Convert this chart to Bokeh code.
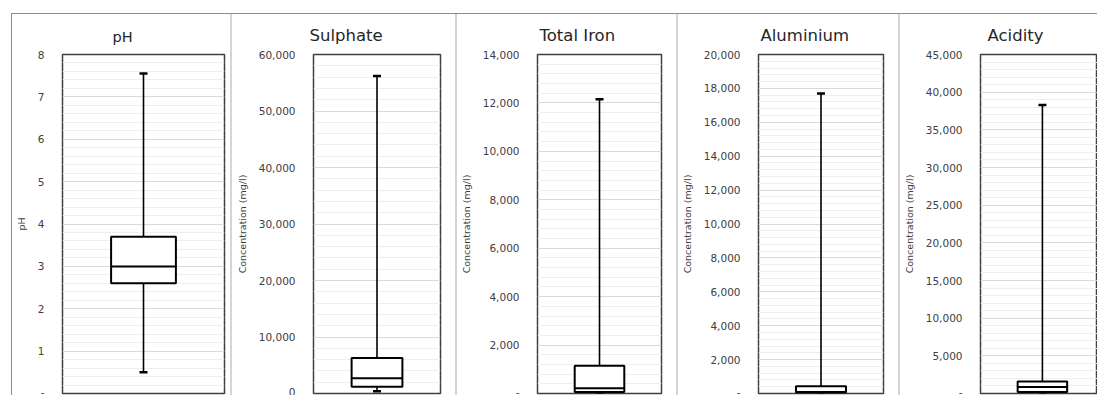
from bokeh.plotting import figure
from bokeh.models import Range1d, FixedTicker, NumeralTickFormatter, Div, ColumnDataSource
from bokeh.layouts import row, column
from bokeh.embed import file_html
from bokeh.resources import INLINE

# ---- data ----
titles = ["pH", "Sulphate", "Total Iron", "Aluminium", "Acidity"]
y_labels = ["pH", "Concentration (mg/l)", "Concentration (mg/l)",
            "Concentration (mg/l)", "Concentration (mg/l)"]
whisker_low = [0.5, 400, 10, 10, 20]
quartile1 = [2.6, 1200, 60, 60, 200]
median = [3.0, 2700, 220, 90, 850]
quartile3 = [3.7, 6300, 1150, 430, 1600]
whisker_high = [7.55, 56200, 12150, 17700, 38300]

ph_ticks = [0, 1, 2, 3, 4, 5, 6, 7, 8]
sulphate_ticks = [0, 10000, 20000, 30000, 40000, 50000, 60000]
iron_ticks = [0, 2000, 4000, 6000, 8000, 10000, 12000, 14000]
aluminium_ticks = [0, 2000, 4000, 6000, 8000, 10000, 12000, 14000, 16000, 18000, 20000]
acidity_ticks = [0, 5000, 10000, 15000, 20000, 25000, 30000, 35000, 40000, 45000]
major_ticks = [ph_ticks, sulphate_ticks, iron_ticks, aluminium_ticks, acidity_ticks]
zero_labels = ["-", "0", "-", "-", "-"]

# ---- layout / style ----
FONT = "DejaVu Sans"
fig_w = [218, 223, 219, 220, 197]
border_l = [46, 81, 73, 74, 72]
border_r = [6, 15, 15, 15, 0]
x_end = [0.5, 0.5, 0.5, 0.5, 0.445]
title_size = ["14.5px", "16.5px", "16.5px", "16.5px", "16.5px"]
title_left = [50, -4, 2, 2, 7]
FIG_H = 381


def minor_of(ticks, n=5):
    out = []
    for a, b in zip(ticks[:-1], ticks[1:]):
        for k in range(1, n):
            out.append(a + (b - a) * k / n)
    return out


figs = []
for i in range(5):
    ticks = major_ticks[i]
    p = figure(width=fig_w[i], height=FIG_H, output_backend="svg", toolbar_location=None,
               x_range=Range1d(-0.5, x_end[i]), y_range=Range1d(ticks[0], ticks[-1]),
               min_border_left=border_l[i], min_border_right=border_r[i],
               min_border_top=38, min_border_bottom=2, title=titles[i])
    p.background_fill_color = "white"
    p.border_fill_color = "white"
    p.outline_line_color = "#404040"
    p.outline_line_width = 1.5

    p.title.align = "left"
    p.title.offset = title_left[i]
    p.title.standoff = 19
    p.title.text_line_height = 0.65
    p.title.text_font = FONT
    p.title.text_font_size = title_size[i]
    p.title.text_font_style = "normal"
    p.title.text_color = "#262626"

    p.xaxis.visible = False
    p.xgrid.visible = False

    ticker = FixedTicker(ticks=ticks, minor_ticks=minor_of(ticks))
    p.yaxis.ticker = ticker
    p.ygrid.ticker = ticker
    p.ygrid.grid_line_color = "#d9d9d9"
    p.ygrid.minor_grid_line_color = "#eeeeee"
    p.yaxis.formatter = NumeralTickFormatter(format="0,0")
    p.yaxis.major_label_overrides = {0: zero_labels[i]}
    p.yaxis.axis_line_color = None
    p.yaxis.major_tick_line_color = None
    p.yaxis.minor_tick_line_color = None
    p.yaxis.major_tick_out = 0
    p.yaxis.major_label_standoff = 14
    p.yaxis.major_label_text_font = FONT
    p.yaxis.major_label_text_font_size = "10.5px"
    p.yaxis.major_label_text_color = "#404040"
    p.yaxis.axis_label = y_labels[i]
    p.yaxis.axis_label_text_font = FONT
    p.yaxis.axis_label_text_font_size = "9.5px"
    p.yaxis.axis_label_text_font_style = "normal"
    p.yaxis.axis_label_text_color = "#404040"
    p.yaxis.axis_label_standoff = 8

    src = ColumnDataSource(dict(x=[0], low=[whisker_low[i]], q1=[quartile1[i]],
                                med=[median[i]], q3=[quartile3[i]], high=[whisker_high[i]]))
    p.segment(x0="x", y0="low", x1="x", y1="high", source=src,
              line_color="black", line_width=1.6)
    p.vbar(x="x", width=0.4, bottom="q1", top="q3", source=src,
           fill_color="white", line_color="black", line_width=2)
    p.rect(x="x", y="med", width=0.4, height=2, height_units="screen", source=src,
           fill_color="black", line_color=None)
    p.scatter(x="x", y="low", marker="dash", size=8, line_width=2.5,
              line_color="black", source=src)
    p.scatter(x="x", y="high", marker="dash", size=8, line_width=2.5,
              line_color="black", source=src)
    figs.append(p)


def bar(w, h, color):
    return Div(width=w, height=h, margin=0, styles={"background-color": color})


items = [bar(11, FIG_H, "white"), bar(1, FIG_H, "#8c8c8c")]
for i, p in enumerate(figs):
    if i > 0:
        items.append(bar(2, FIG_H, "#d4d4d4"))
    items.append(p)

layout = column(
    bar(1097, 13, "white"),
    row(bar(11, 1, "white"), bar(1086, 1, "#8c8c8c"), spacing=0),
    row(*items, spacing=0),
    spacing=0,
)

html = file_html(layout, INLINE)
with open("out.html", "w") as f:
    f.write(html)
